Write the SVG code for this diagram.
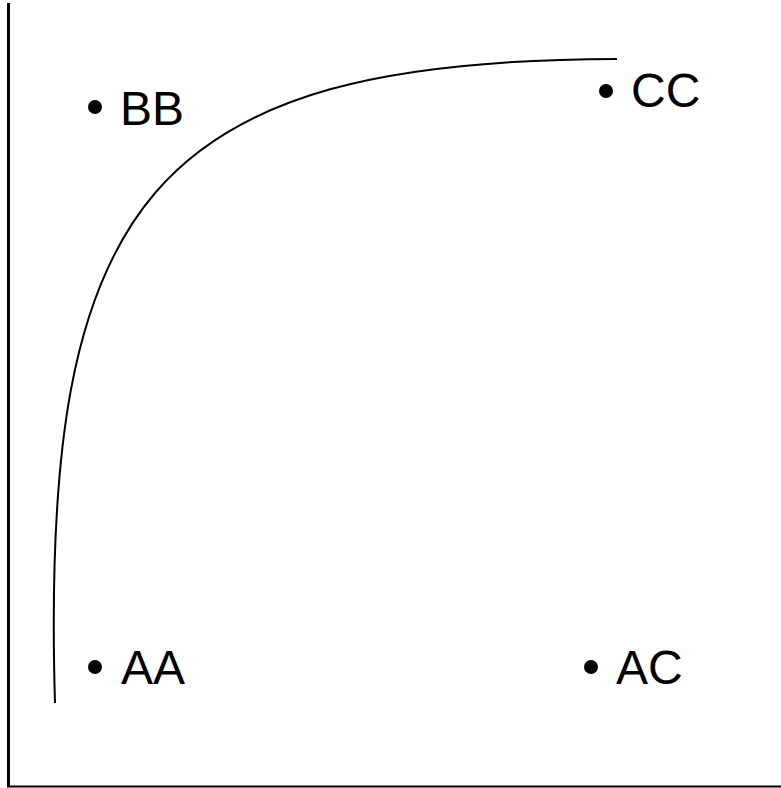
<svg xmlns="http://www.w3.org/2000/svg" width="781" height="788" viewBox="0 0 781 788">
<style>
.dot{fill:#000}
.lbl{font-family:"Liberation Sans",Arial,sans-serif;font-size:48px;fill:#000}
.axis{stroke:#000;fill:none}
.curve{stroke:#000;stroke-width:2;fill:none}
</style>
<rect width="781" height="788" fill="#fff"/>
<g id="axes">
<line class="axis" x1="8.5" y1="3" x2="8.5" y2="787" stroke-width="3"/>
<line class="axis" x1="7" y1="786.5" x2="781" y2="786.5" stroke-width="2" stroke="#222"/>
</g>
<g id="connectors">
<path class="curve" d="M55,703 C40,200 150,60 617,59"/>
</g>
<g id="BB"><circle class="dot" cx="95" cy="107" r="7"/><text class="lbl" x="120" y="125">BB</text></g>
<g id="CC"><circle class="dot" cx="606" cy="91" r="7"/><text class="lbl" x="631" y="107">CC</text></g>
<g id="AA"><circle class="dot" cx="95" cy="667" r="7"/><text class="lbl" x="121" y="684">AA</text></g>
<g id="AC"><circle class="dot" cx="591" cy="667" r="7"/><text class="lbl" x="616" y="684">AC</text></g>
</svg>
